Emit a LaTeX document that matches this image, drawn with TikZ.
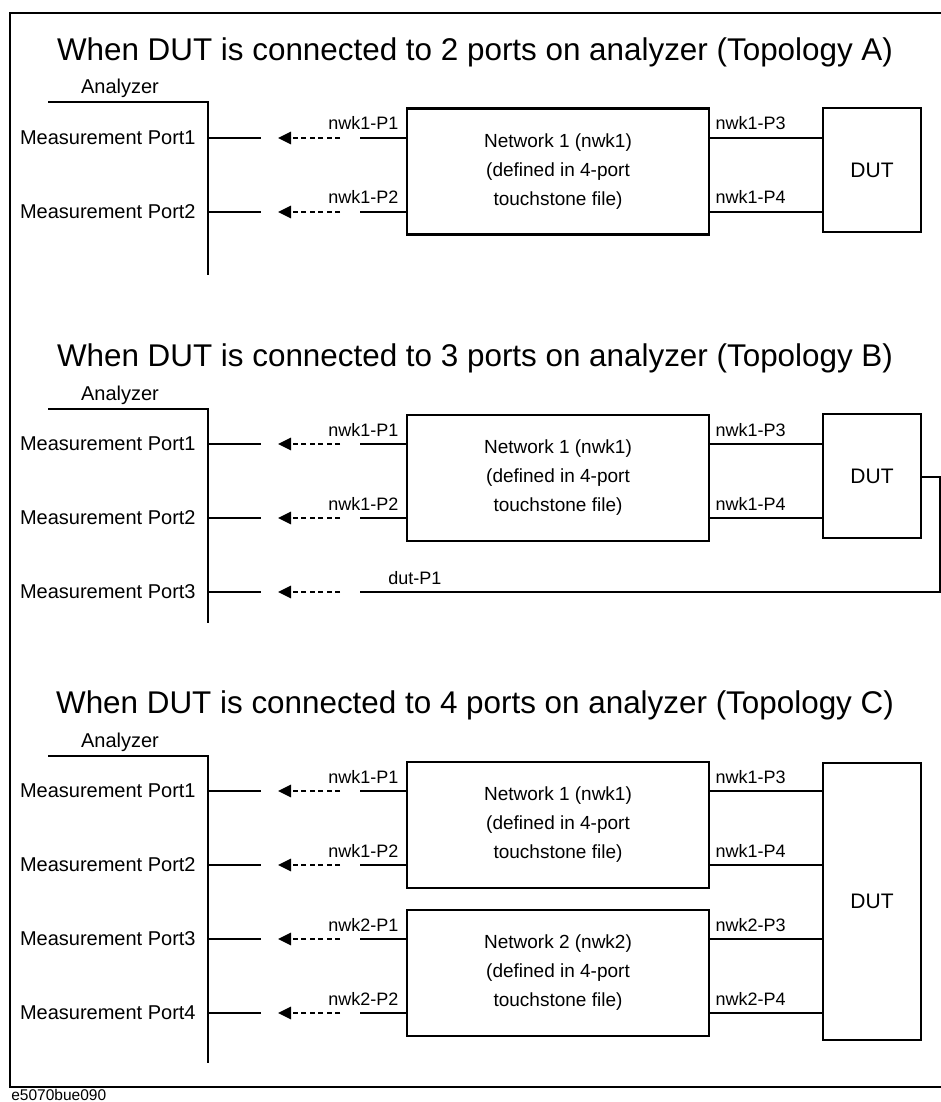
\documentclass[tikz,border=0pt]{standalone}
\usepackage{fontspec}
\setmainfont{Liberation Sans}
\usetikzlibrary{arrows.meta}

\tikzset{
  ttl/.style={font=\fontsize{31.4}{35}\selectfont},
  anlbl/.style={font=\fontsize{20}{24}\selectfont},
  portlbl/.style={anchor=east, inner xsep=11pt, font=\fontsize{20}{24}\selectfont},
  taglbl/.style={font=\fontsize{18}{21}\selectfont, inner sep=0pt},
  netbox/.style={draw, minimum width=302pt, minimum height=126pt, align=center,
    font=\fontsize{19}{29}\selectfont},
  dutbox/.style={draw, minimum width=98pt, font=\fontsize{21}{24}\selectfont},
  toanz/.style={-{Triangle[length=13pt, width=12pt]}, dash pattern=on 5pt off 3.5pt},
}

\begin{document}
\begin{tikzpicture}[x=1pt, y=-1pt, line width=2.7pt]
  \useasboundingbox (0,0) rectangle (941,1102);
  \draw[line width=2.2pt] (941,13) -- (10,13) -- (10,1087) -- (941,1087);

  \node[ttl] (ttlA) at (475,52) {When DUT is connected to 2 ports on analyzer (Topology A)};
  \node[ttl] (ttlB) at (475,358) {When DUT is connected to 3 ports on analyzer (Topology B)};
  \node[ttl] (ttlC) at (475,705) {When DUT is connected to 4 ports on analyzer (Topology C)};

  % analyzer side
  \foreach \tp/\y/\e in {A/102/275, B/409/623, C/756/1063} {
    \node[anlbl] (an\tp) at (120,\y-14) {Analyzer};
    \coordinate (an\tp0) at (48,\y);
    \coordinate (an\tp1) at (208,\y);
    \coordinate (an\tp2) at (208,\e);
    \draw (an\tp0) -- (an\tp1) -- (an\tp2);
  }
  \foreach \n/\k/\y in {A1/1/138, A2/2/212, B1/1/444, B2/2/518, B3/3/592,
                        C1/1/791, C2/2/865, C3/3/939, C4/4/1013} {
    \node[portlbl] (p\n) at (208,\y) {Measurement Port\k};
    \coordinate (e\n) at (261,\y);
    \coordinate (d\n) at (340,\y);
    \coordinate (h\n) at (278,\y);
    \coordinate (f\n) at (360,\y);
    \draw (p\n.east) -- (e\n);
    \draw[toanz] (d\n) -- (h\n);
  }

  % networks and DUTs
  \node[netbox] (nwA) at (558,171.5) {Network 1 (nwk1)\\(defined in 4-port\\touchstone file)};
  \node[netbox] (nwB) at (558,478) {Network 1 (nwk1)\\(defined in 4-port\\touchstone file)};
  \node[netbox] (nwC1) at (558,825) {Network 1 (nwk1)\\(defined in 4-port\\touchstone file)};
  \node[netbox] (nwC2) at (558,973) {Network 2 (nwk2)\\(defined in 4-port\\touchstone file)};
  \node[dutbox, minimum height=124pt] (dutA) at (872,170) {DUT};
  \node[dutbox, minimum height=124pt] (dutB) at (872,476) {DUT};
  \node[dutbox, minimum height=277pt] (dutC) at (872,901.5) {DUT};

  \foreach \n/\b/\d/\l/\r in {A1/nwA/dutA/nwk1-P1/nwk1-P3, A2/nwA/dutA/nwk1-P2/nwk1-P4,
                              B1/nwB/dutB/nwk1-P1/nwk1-P3, B2/nwB/dutB/nwk1-P2/nwk1-P4,
                              C1/nwC1/dutC/nwk1-P1/nwk1-P3, C2/nwC1/dutC/nwk1-P2/nwk1-P4,
                              C3/nwC2/dutC/nwk2-P1/nwk2-P3, C4/nwC2/dutC/nwk2-P2/nwk2-P4} {
    \draw (f\n) -- (\b.west |- f\n);
    \draw (\b.east |- f\n) -- (\d.west |- f\n);
    \node[taglbl, anchor=base east, xshift=-6pt, yshift=8pt] (tl\n) at (\b.west |- f\n) {\l};
    \node[taglbl, anchor=base west, xshift=4pt, yshift=8pt] (tr\n) at (\b.east |- f\n) {\r};
  }

  % DUT back to port 3
  \coordinate (lpR) at (940,477);
  \coordinate (lpB) at (940,592);
  \draw (dutB.east |- lpR) -- (lpR) -- (lpB) -- (fB3);
  \node[taglbl, anchor=base west] (tB3) at (387,584) {dut-P1};

  \node[anchor=west, inner sep=0pt, font=\fontsize{15.5}{18}\selectfont] (figid) at (10,1095) {e5070bue090};
\end{tikzpicture}
\end{document}
